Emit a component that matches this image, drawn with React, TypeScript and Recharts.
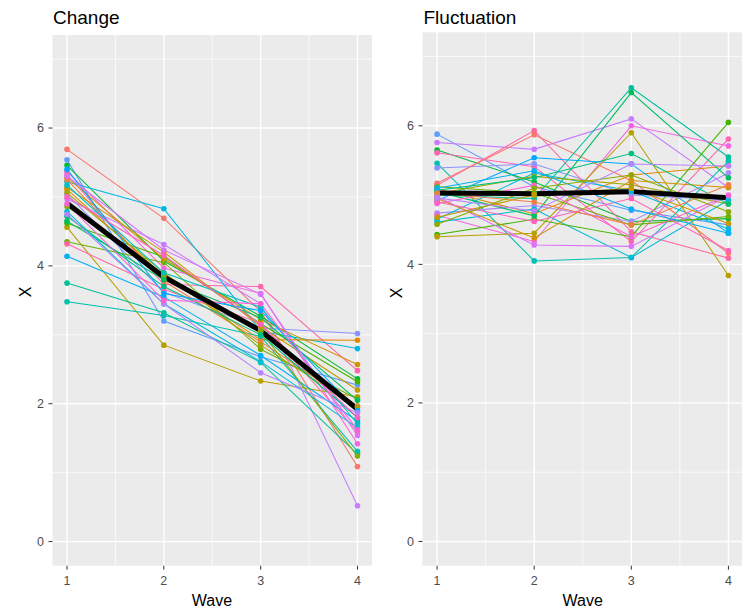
import React from 'react';
import { LineChart, Line, XAxis, YAxis, CartesianGrid } from 'recharts';

const FONT = '"Liberation Sans", Arial, Helvetica, sans-serif';

const WAVES = [1, 2, 3, 4];
const Y_TICKS = [0, 2, 4, 6];
const Y_MINOR = [1, 3, 5, 7];
const X_MINOR = [1.5, 2.5, 3.5];

// --- Change: one score per person at each wave ---
const changeW1 = [5.69, 5.54, 5.46, 5.37, 5.33, 5.22, 5.11, 4.56, 4.97, 5.04, 4.62, 4.35, 4.32, 4.14, 3.75, 3.48, 5.28, 5.25, 5.14, 5.06, 4.86, 4.65, 4.72, 5.17, 4.79, 5.40, 4.75, 5.30, 4.90, 5.00];
const changeW2 = [4.69, 3.20, 4.07, 3.97, 3.73, 4.83, 3.85, 2.85, 4.31, 3.62, 4.13, 4.05, 3.66, 3.55, 3.32, 3.28, 4.10, 3.78, 4.20, 3.90, 3.88, 3.80, 3.70, 3.90, 3.45, 3.60, 3.45, 4.23, 3.50, 4.15];
const changeW3 = [3.34, 2.68, 3.27, 3.60, 3.70, 3.05, 2.93, 2.33, 3.45, 3.10, 3.16, 2.79, 3.17, 2.70, 2.60, 2.98, 3.22, 2.90, 3.12, 2.85, 3.05, 3.25, 3.00, 3.40, 2.61, 3.35, 2.45, 3.59, 3.45, 3.15];
const changeW4 = [1.09, 2.27, 2.36, 1.42, 2.48, 2.80, 2.92, 2.10, 0.52, 3.02, 2.32, 2.07, 1.59, 1.75, 1.27, 1.31, 2.57, 1.97, 2.20, 1.95, 1.24, 2.05, 1.80, 1.71, 1.65, 1.90, 1.87, 1.54, 1.62, 1.80];
const changeMean = [4.91, 3.84, 3.06, 1.92];

const changeColors = [
  '#F8766D', '#619CFF', '#00BA38', '#F564E3', '#FF64B0', '#00B8E5', '#E38900', '#B79F00',
  '#C77CFF', '#8B93FF', '#45B500', '#6FB000', '#FF67A4', '#00B1F3', '#00C099', '#00C0AF',
  '#D49200', '#EF7F49', '#C49A00', '#A3A500', '#8CAB00', '#00BD5F', '#00BF7D', '#00BFC4',
  '#00BCD6', '#00A8FF', '#B983FF', '#DB72FB', '#FB61D7', '#FF62BC',
];

// --- Fluctuation: one score per person at each wave ---
const fluctW1 = [5.88, 5.76, 5.65, 5.61, 5.46, 5.39, 5.14, 5.17, 5.09, 5.00, 4.92, 4.74, 4.71, 4.65, 4.61, 4.43, 4.40, 5.05, 5.02, 4.98, 4.95, 5.12, 4.88, 5.07, 4.68, 4.90, 5.10, 5.03, 4.58, 4.96];
const fluctW2 = [5.12, 5.66, 5.19, 5.41, 4.05, 5.45, 5.93, 5.87, 4.73, 4.95, 5.54, 4.85, 4.33, 5.32, 4.80, 4.65, 4.45, 4.70, 5.27, 4.28, 4.38, 5.03, 5.14, 5.25, 5.00, 4.62, 5.35, 4.90, 5.10, 4.77];
const fluctW3 = [4.78, 6.10, 4.62, 4.33, 4.10, 5.00, 4.47, 5.21, 5.29, 6.55, 5.45, 4.62, 6.00, 5.06, 4.10, 4.40, 5.90, 6.48, 5.15, 4.26, 5.21, 4.57, 4.40, 5.60, 5.10, 4.95, 4.80, 4.57, 5.29, 5.45];
const fluctW4 = [4.57, 5.11, 4.66, 5.81, 5.49, 4.93, 4.09, 4.16, 5.42, 5.55, 4.45, 5.32, 5.71, 4.51, 4.93, 6.05, 3.84, 5.25, 4.87, 4.99, 5.11, 4.69, 5.00, 4.87, 4.59, 4.20, 4.45, 5.15, 4.76, 5.42];
const fluctMean = [5.03, 5.02, 5.05, 4.96];

const fluctColors = [
  '#619CFF', '#C77CFF', '#00BA38', '#FF64B0', '#00C0AF', '#8B93FF', '#FF67A4', '#F8766D',
  '#E38900', '#00C099', '#00A8FF', '#AC88FF', '#F564E3', '#00B8E5', '#00BCD6', '#45B500',
  '#B79F00', '#00BD5F', '#A3A500', '#DB72FB', '#D49200', '#6FB000', '#FB61D7', '#00BF7D',
  '#C49A00', '#FF62BC', '#00B1F3', '#EF7F49', '#8CAB00', '#B983FF',
];

// one row per wave: { wave, mean, p0..p29 }
const buildRows = (byWave: number[][], mean: number[]) =>
  WAVES.map((w, wi) => {
    const row: Record<string, number> = { wave: w, mean: mean[wi] };
    byWave[wi].forEach((v, i) => {
      row[`p${i}`] = v;
    });
    return row;
  });

const changeRows = buildRows([changeW1, changeW2, changeW3, changeW4], changeMean);
const fluctRows = buildRows([fluctW1, fluctW2, fluctW3, fluctW4], fluctMean);

const tickStyle = { fill: '#4D4D4D', fontSize: 12.5, fontFamily: FONT };

type PanelProps = {
  rows: Record<string, number>[];
  colors: string[];
  left: number;
  width: number;
  axisWidth: number;
  top: number;
  right: number;
};

function Panel({ rows, colors, left, width, axisWidth, top, right }: PanelProps) {
  return (
    <div style={{ position: 'absolute', left, top: 0, width, height: 608 }}>
      <LineChart width={width} height={608} data={rows} margin={{ top, right, bottom: 12.3, left: 0 }}>
        <CartesianGrid
          fill="#EBEBEB"
          stroke="#FFFFFF"
          strokeWidth={0.7}
          horizontalValues={Y_MINOR}
          verticalValues={X_MINOR}
        />
        <CartesianGrid stroke="#FFFFFF" strokeWidth={1.4} horizontalValues={Y_TICKS} verticalValues={WAVES} />
        <XAxis
          type="number"
          dataKey="wave"
          domain={[0.85, 4.15]}
          ticks={WAVES}
          allowDataOverflow
          height={30}
          axisLine={false}
          tickSize={4}
          tickMargin={6}
          tickLine={{ stroke: '#333333', strokeWidth: 1 }}
          tick={tickStyle}
        />
        <YAxis
          type="number"
          domain={[-0.35, 7.35]}
          ticks={Y_TICKS}
          allowDataOverflow
          width={axisWidth}
          axisLine={false}
          tickSize={4}
          tickMargin={4.5}
          tickLine={{ stroke: '#333333', strokeWidth: 1 }}
          tick={tickStyle}
        />
        {colors.map((c, i) => (
          <Line
            key={`line-${i}`}
            dataKey={`p${i}`}
            stroke={c}
            strokeWidth={1.05}
            dot={false}
            activeDot={false}
            isAnimationActive={false}
          />
        ))}
        {colors.map((c, i) => (
          <Line
            key={`pt-${i}`}
            dataKey={`p${i}`}
            stroke="none"
            dot={{ r: 2.8, fill: c, stroke: 'none' }}
            activeDot={false}
            isAnimationActive={false}
          />
        ))}
        <Line
          dataKey="mean"
          stroke="#000000"
          strokeWidth={5}
          strokeLinejoin="round"
          dot={false}
          activeDot={false}
          isAnimationActive={false}
        />
      </LineChart>
    </div>
  );
}

export default function App() {
  return (
    <div
      style={{
        position: 'absolute',
        left: 0,
        top: 0,
        width: 742,
        height: 608,
        overflow: 'hidden',
        background: '#FFFFFF',
      }}
    >
      <Panel rows={changeRows} colors={changeColors} left={0} width={380} axisWidth={52.5} top={35} right={8} />
      <Panel rows={fluctRows} colors={fluctColors} left={380} width={363} axisWidth={42.5} top={32.3} right={0} />

      {/* titles and axis titles */}
      <svg width={742} height={608} style={{ position: 'absolute', left: 0, top: 0, pointerEvents: 'none' }}>
        <g fontFamily={FONT} fill="#000000">
          <text x={53} y={24} fontSize={19}>Change</text>
          <text x={423.5} y={24} fontSize={19}>Fluctuation</text>
          <text x={212} y={605.5} fontSize={16} textAnchor="middle">Wave</text>
          <text x={582.7} y={605.5} fontSize={16} textAnchor="middle">Wave</text>
          <text x={31.4} y={292} fontSize={16} textAnchor="middle" transform="rotate(-90 31.4 292)">X</text>
          <text x={401.5} y={293} fontSize={16} textAnchor="middle" transform="rotate(-90 401.5 293)">X</text>
        </g>
      </svg>
    </div>
  );
}
